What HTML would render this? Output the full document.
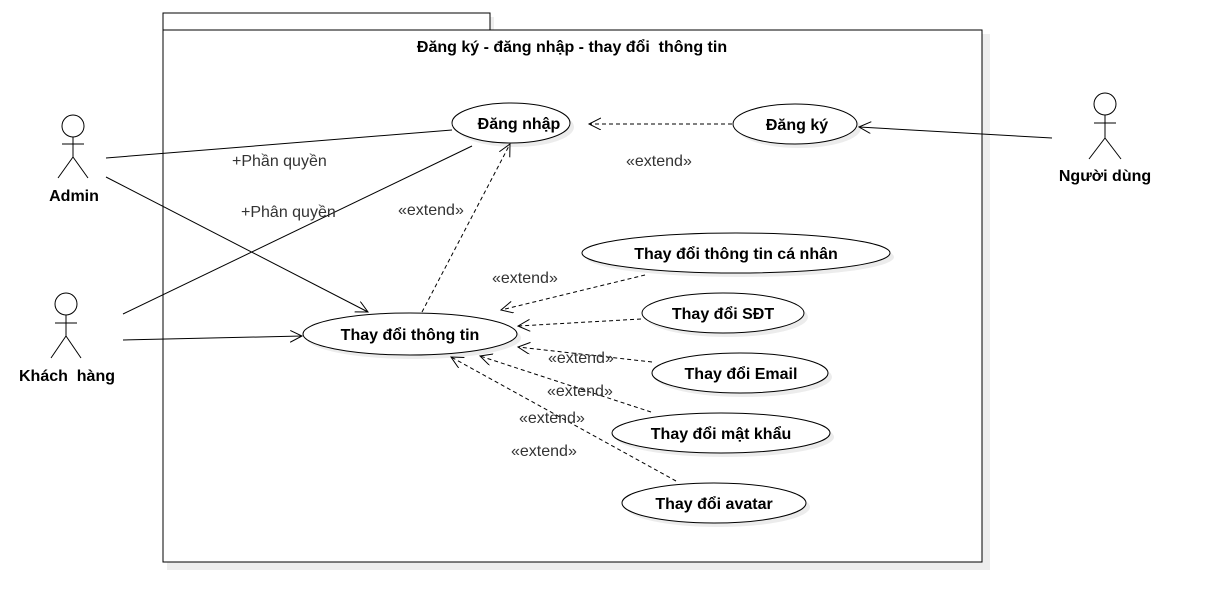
<!DOCTYPE html>
<html><head><meta charset="utf-8"><style>
html,body{margin:0;padding:0;background:#fff;}
svg{display:block;}
text{font-family:"Liberation Sans",Arial,sans-serif;}
.b{font-weight:bold;font-size:16px;fill:#000;}
.l{font-size:16px;fill:#333;}
</style></head><body>
<svg width="1206" height="612" viewBox="0 0 1206 612" xmlns="http://www.w3.org/2000/svg">
<defs>
<marker id="a" markerWidth="14" markerHeight="14" refX="12" refY="6" orient="auto" markerUnits="userSpaceOnUse">
<path d="M0,0 L12,6 L0,12" fill="none" stroke="#000" stroke-width="1"/></marker>
</defs>
<rect x="167" y="17" width="327" height="17" fill="#eee"/>
<rect x="167" y="34" width="823" height="536" fill="#eee"/>
<rect x="163" y="13" width="327" height="17" fill="#fff" stroke="#000"/>
<rect x="163" y="30" width="819" height="532" fill="#fff" stroke="#000"/>
<text class="b" x="572" y="52" text-anchor="middle">Đăng ký - đăng nhập - thay đổi&#160; thông tin</text>

<g fill="#ececec">
<ellipse cx="515" cy="127" rx="59" ry="20"/>
<ellipse cx="799" cy="128" rx="62" ry="20"/>
<ellipse cx="414" cy="338" rx="107" ry="21"/>
<ellipse cx="740" cy="257" rx="154" ry="20"/>
<ellipse cx="727" cy="317" rx="81" ry="20"/>
<ellipse cx="744" cy="377" rx="88" ry="20"/>
<ellipse cx="725" cy="437" rx="109" ry="20"/>
<ellipse cx="718" cy="507" rx="92" ry="20"/>
</g>
<g fill="#fff" stroke="#000">
<ellipse cx="511" cy="123" rx="59" ry="20"/>
<ellipse cx="795" cy="124" rx="62" ry="20"/>
<ellipse cx="410" cy="334" rx="107" ry="21"/>
<ellipse cx="736" cy="253" rx="154" ry="20"/>
<ellipse cx="723" cy="313" rx="81" ry="20"/>
<ellipse cx="740" cy="373" rx="88" ry="20"/>
<ellipse cx="721" cy="433" rx="109" ry="20"/>
<ellipse cx="714" cy="503" rx="92" ry="20"/>
</g>
<g text-anchor="middle">
<text class="b" x="519" y="129">Đăng nhập</text>
<text class="b" x="797" y="130">Đăng ký</text>
<text class="b" x="410" y="340">Thay đổi thông tin</text>
<text class="b" x="736" y="259">Thay đổi thông tin cá nhân</text>
<text class="b" x="723" y="319">Thay đổi SĐT</text>
<text class="b" x="741" y="379">Thay đổi Email</text>
<text class="b" x="721" y="439">Thay đổi mật khẩu</text>
<text class="b" x="714" y="509">Thay đổi avatar</text>
</g>

<g fill="none" stroke="#000" stroke-width="1">
<circle cx="73" cy="126" r="11"/><line x1="73" y1="137" x2="73" y2="157"/><line x1="62" y1="144" x2="84" y2="144"/><line x1="73" y1="157" x2="58" y2="178"/><line x1="73" y1="157" x2="88" y2="178"/>
<circle cx="66" cy="304" r="11"/><line x1="66" y1="315" x2="66" y2="336"/><line x1="55" y1="323" x2="77" y2="323"/><line x1="66" y1="336" x2="51" y2="358"/><line x1="66" y1="336" x2="81" y2="358"/>
<circle cx="1105" cy="104" r="11"/><line x1="1105" y1="115" x2="1105" y2="138"/><line x1="1094" y1="123" x2="1116" y2="123"/><line x1="1105" y1="138" x2="1089" y2="159"/><line x1="1105" y1="138" x2="1121" y2="159"/>
</g>
<text class="b" x="74" y="201" text-anchor="middle">Admin</text>
<text class="b" x="67" y="381" text-anchor="middle">Khách&#160; hàng</text>
<text class="b" x="1105" y="181" text-anchor="middle">Người dùng</text>

<g stroke="#000" fill="none" stroke-width="1">
<line x1="106" y1="158" x2="452" y2="130"/>
<line x1="106" y1="177" x2="368" y2="312" marker-end="url(#a)"/>
<line x1="123" y1="314" x2="472" y2="146"/>
<line x1="123" y1="340" x2="302" y2="336" marker-end="url(#a)"/>
<line x1="1052" y1="138" x2="859" y2="127" marker-end="url(#a)"/>
</g>
<text class="l" x="232" y="166">+Phần quyền</text>
<text class="l" x="241" y="217">+Phân quyền</text>

<g stroke="#000" fill="none" stroke-width="1" stroke-dasharray="4,3">
<line x1="732" y1="124" x2="589" y2="124" marker-end="url(#a)"/>
<line x1="422" y1="312" x2="510" y2="144" marker-end="url(#a)"/>
<line x1="645" y1="275" x2="501" y2="310" marker-end="url(#a)"/>
<line x1="641" y1="319" x2="518" y2="326" marker-end="url(#a)"/>
<line x1="652" y1="362" x2="518" y2="347" marker-end="url(#a)"/>
<line x1="651" y1="412" x2="480" y2="356" marker-end="url(#a)"/>
<line x1="676" y1="481" x2="451" y2="357" marker-end="url(#a)"/>
</g>
<g>
<text class="l" x="626" y="166">«extend»</text>
<text class="l" x="398" y="215">«extend»</text>
<text class="l" x="492" y="283">«extend»</text>
<text class="l" x="548" y="363">«extend»</text>
<text class="l" x="547" y="396">«extend»</text>
<text class="l" x="519" y="423">«extend»</text>
<text class="l" x="511" y="456">«extend»</text>
</g>
</svg>
</body></html>
